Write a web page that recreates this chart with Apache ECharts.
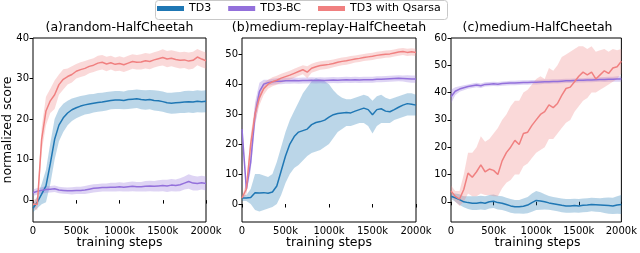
<!DOCTYPE html>
<html><head><meta charset="utf-8">
<script src="https://cdn.jsdelivr.net/npm/echarts@6/dist/echarts.min.js"></script>
<style>html,body{margin:0;padding:0;background:#fff}#c{width:640px;height:253px}</style>
</head><body><div id="c"></div>
<script>
const steps = [0,50,100,150,200,250,300,350,400,450,500,550,600,650,700,750,800,850,900,950,1000,1050,1100,1150,1200,1250,1300,1350,1400,1450,1500,1550,1600,1650,1700,1750,1800,1850,1900,1950,2000];
const xTicks = [0,500,1000,1500,2000];
const yTicksA = [0,10,20,30,40];
const yTicksB = [0,10,20,30,40,50];
const yTicksC = [0,10,20,30,40,50,60];
const seriesNames = ['TD3','TD3-BC','TD3 with Qsarsa'];
const titles = ['(a)random-HalfCheetah','(b)medium-replay-HalfCheetah','(c)medium-HalfCheetah'];

// Panel (a) random
const aTd3 = [-2,-0.5,1.5,3.5,9,15,18.5,20.3,21.5,22.3,22.8,23.2,23.5,23.7,23.9,24.1,24.2,24.4,24.6,24.7,24.7,24.6,24.8,24.9,25,24.8,24.7,24.8,24.6,24.5,24.3,24,23.9,24,24.1,24.2,24.3,24.2,24.4,24.3,24.4];
const aTd3Err = [1,1.5,2.5,4,5,5,4,3.5,3,2.8,2.6,2.5,2.4,2.4,2.3,2.3,2.3,2.3,2.2,2.2,2.2,2.2,2.3,2.3,2.3,2.4,2.4,2.4,2.5,2.5,2.5,2.5,2.6,2.6,2.6,2.7,2.7,2.7,2.7,2.7,2.7];
const aBc = [1.8,2.2,2.4,2.6,2.7,2.8,2.5,2.4,2.3,2.3,2.4,2.4,2.5,2.7,2.9,3,3.1,3.1,3.2,3.2,3.3,3.2,3.3,3.4,3.3,3.3,3.4,3.5,3.4,3.5,3.6,3.5,3.7,3.6,3.8,4.2,4.6,4.2,4.1,4.3,4.1];
const aBcErr = [0.8,0.8,0.8,0.8,0.8,0.8,0.8,0.8,0.8,0.9,0.9,0.9,1,1,1,1,1,1,1.1,1.1,1.1,1.1,1.2,1.2,1.2,1.2,1.3,1.3,1.3,1.4,1.4,1.5,1.5,1.5,1.6,1.6,1.8,1.8,1.7,1.7,1.7];
const aQs = [-1,-1,15,22,24.5,26,28.5,29.8,30.5,31,31.8,32.2,32.5,33,33.3,33.8,34,33.6,33.9,33.5,33.7,33.4,33.8,34.2,34,34.1,34.4,34.2,34.6,34.9,35.2,34.8,35,34.7,34.5,34.6,34.3,34.5,35.3,34.8,34.4];
const aQsErr = [1,1.5,3,3.5,3,3.5,2.5,2.5,2,2,1.8,1.8,1.8,1.7,1.7,1.8,1.8,1.8,1.7,1.7,1.8,1.8,1.8,1.8,1.8,1.9,1.9,1.9,1.9,1.9,2,2,2,2,2,2,2.1,2.1,2,2,2];

// Panel (b) medium-replay
const bTd3 = [2,2,2.2,3.8,3.7,3.8,3.6,4,6,11,16,20,22.5,24,24.5,25,26.5,27.2,27.5,28,29,29.8,30.2,30.4,30.5,30.4,31,31.5,32,31.5,29.8,31.5,31.8,31,30.8,31.5,32.3,33,33.5,33.3,33];
const bTd3Lo = [1,1,0,-2,-2.5,-2,-1.5,-1,0,3,7,10,12,13,14.5,16,17,17.5,18,19,20,22,24,25,26,26,26.5,27,27,26,23.5,26,27,27,27,28,28.5,29,29.5,29.5,29.5];
const bTd3Hi = [3,3,5,10,10,9.5,9,10,14,19,24,28,31,34,37,39,41,42,41.5,41,40,38,36.5,35.5,35,35,35.5,36,36.5,36,34.5,36,36.5,35.5,35,35.5,36,36.5,37,37,36.5];
const bBc = [25,5,14,30,37.5,40,40.5,40.8,41,41,41.1,41.1,41.2,41.1,41.2,41.2,41.3,41.2,41.3,41.2,41.3,41.4,41.3,41.4,41.5,41.4,41.5,41.4,41.5,41.5,41.5,41.6,41.6,41.7,41.8,41.9,42,41.9,41.8,41.7,41.7];
const bBcErr = [2,1.5,3,4,3,1.5,1,1,1,1,1,1,1,1,1,1,1,1,1,1,1,1,1,1,1,1,1,1,1,1,1,1,1,1,1,1,1,1,1.2,1.2,1.2];
const bQs = [2,5,20,30,35.5,38.5,40,40.8,41.3,42,42.5,43,43.6,44.2,44.8,44,45.3,45.8,46.2,46.4,46.6,46.9,47.3,47.6,47.8,48.1,48.4,48.6,48.9,49.1,49.3,49.6,49.8,50,50.1,50.4,50.7,50.9,50.6,50.8,50.6];
const bQsErr = [0.5,2,3,3,2.5,2,1.5,1.5,1.5,1.5,1.5,1.5,1.5,1.5,1.5,2,1.5,1.5,1.4,1.4,1.4,1.3,1.3,1.3,1.3,1.3,1.2,1.2,1.2,1.2,1.2,1.2,1.2,1.2,1.2,1.2,1.2,1.2,1.2,1.2,1.2];

// Panel (c) medium
const cTd3 = [2,1.5,0.8,0,-0.3,-0.5,-0.5,-0.3,-0.5,0,0.2,-0.3,-0.5,-1,-1.5,-1.8,-1.8,-1.6,-1.2,-0.3,0.5,0.3,0,-0.4,-0.7,-1,-1.3,-1.5,-1.5,-1.4,-1.5,-1.3,-1.2,-1,-1.1,-1.2,-1.3,-1.4,-1.5,-1.2,-1];
const cTd3Err = [1,1.5,2,2,2.3,2.5,2.5,2.5,2.5,2.5,2.5,2.5,2.5,2.5,2.5,2.5,2.5,2.8,3,3.3,3.5,3.2,2.8,2.5,2.5,2.5,2.5,2.5,2.5,2.5,2.5,2.5,2.5,2.5,2.5,2.5,2.8,3,3,3.2,3.5];
const cBc = [38.5,40.5,41.3,41.8,42.2,42.5,42.8,42.5,43,43.1,43.2,43.1,43.3,43.4,43.5,43.5,43.6,43.7,43.7,43.8,43.8,43.9,44,44,44.1,44.1,44.2,44.3,44.3,44.4,44.5,44.5,44.6,44.6,44.7,44.8,44.8,44.9,44.9,45,45];
const cBcErr = [2.5,1.5,1,0.9,0.8,0.8,0.8,0.8,0.8,0.8,0.8,0.8,0.8,0.8,0.8,0.8,0.8,0.8,0.8,0.8,0.8,0.8,0.8,0.8,0.8,0.8,0.8,0.8,0.8,0.8,0.8,0.8,0.8,0.8,0.8,0.8,0.9,0.9,0.9,1,1];
const cQs = [4,2,1,4.5,10.5,9,11,13.5,11,12,11.5,10,15,18,20,22.5,21,25,25.5,28,30,32,33,35.5,34.5,36,39,41.5,42,44,46,47.5,46.5,47.5,45,46.5,48,47,49,49.5,51.5];
const cQsLo = [2,0,-1.5,0,3,2,2,3,2.5,2.5,2,2,5,7,8,10,10,13,14,16,18,19,20,23,23,25,27,29,30,33,35,37,38,40,40,41,42,43,44,45,47];
const cQsHi = [6,4,4,10,18,18,20,24,22,23,25,27,30,32,35,37,37,40,41,43,45,46,45,49,48,50,53,54,55,56,57,57,56,57,55,55.5,56,55,56,55.5,56];

const COLORS = {'TD3':'#1f77b4','TD3-BC':'#9370db','TD3 with Qsarsa':'#f08080'};
const FONT = 'DejaVu Sans';

const panels = [
  {min:-5.4, max:40, ticks:yTicksA, lines:[
    {name:'TD3', mean:aTd3, lo:aTd3.map((v,i)=>v-aTd3Err[i]), hi:aTd3.map((v,i)=>v+aTd3Err[i])},
    {name:'TD3-BC', mean:aBc, lo:aBc.map((v,i)=>v-aBcErr[i]), hi:aBc.map((v,i)=>v+aBcErr[i])},
    {name:'TD3 with Qsarsa', mean:aQs, lo:aQs.map((v,i)=>v-aQsErr[i]), hi:aQs.map((v,i)=>v+aQsErr[i])}]},
  {min:-6, max:55.4, ticks:yTicksB, lines:[
    {name:'TD3', mean:bTd3, lo:bTd3Lo, hi:bTd3Hi},
    {name:'TD3-BC', mean:bBc, lo:bBc.map((v,i)=>v-bBcErr[i]), hi:bBc.map((v,i)=>v+bBcErr[i])},
    {name:'TD3 with Qsarsa', mean:bQs, lo:bQs.map((v,i)=>v-bQsErr[i]), hi:bQs.map((v,i)=>v+bQsErr[i])}]},
  {min:-7.4, max:60, ticks:yTicksC, lines:[
    {name:'TD3', mean:cTd3, lo:cTd3.map((v,i)=>v-cTd3Err[i]), hi:cTd3.map((v,i)=>v+cTd3Err[i])},
    {name:'TD3-BC', mean:cBc, lo:cBc.map((v,i)=>v-cBcErr[i]), hi:cBc.map((v,i)=>v+cBcErr[i])},
    {name:'TD3 with Qsarsa', mean:cQs, lo:cQsLo, hi:cQsHi}]}
];

const gridBoxes = [{left:33,width:173},{left:242,width:174},{left:451,width:173}];
const TOP = 38, HEIGHT = 184;

const isTick = (i, v) => xTicks.indexOf(Number(v)) >= 0;

const grids = [], xAxes = [], yAxes = [], series = [], graphics = [];
panels.forEach((p, g) => {
  const gb = gridBoxes[g];
  grids.push({left:gb.left, top:TOP, width:gb.width, height:HEIGHT, show:true, borderColor:'#000', borderWidth:1, backgroundColor:'rgba(0,0,0,0)'});
  xAxes.push({type:'category', gridIndex:g, data:steps.map(String), boundaryGap:false,
    axisLine:{show:false}, splitLine:{show:false},
    axisTick:{show:true, interval:isTick, length:3.5, lineStyle:{color:'#000', width:1}},
    axisLabel:{interval:isTick, formatter:v => (Number(v)===0 ? '0' : v + 'k'), fontSize:10, fontFamily:FONT, color:'#000', margin:4}});
  yAxes.push({type:'value', gridIndex:g, min:p.min, max:p.max,
    axisLine:{show:false}, splitLine:{show:false},
    axisTick:{show:true, length:3.5, customValues:p.ticks, lineStyle:{color:'#000', width:1}},
    axisLabel:{customValues:p.ticks, fontSize:10, fontFamily:FONT, color:'#000', margin:4}});
  p.lines.forEach(l => {
    const key = 'b' + g + l.name;
    series.push({type:'line', name:key+'lo', xAxisIndex:g, yAxisIndex:g, data:l.lo, stack:key, stackStrategy:'all',
      symbol:'none', silent:true, lineStyle:{opacity:0}, z:1});
    series.push({type:'line', name:key+'band', xAxisIndex:g, yAxisIndex:g, data:l.hi.map((h,i)=>h-l.lo[i]), stack:key, stackStrategy:'all',
      symbol:'none', silent:true, lineStyle:{opacity:0}, areaStyle:{color:COLORS[l.name], opacity:0.3}, z:1});
  });
  p.lines.forEach(l => {
    series.push({type:'line', name:l.name, xAxisIndex:g, yAxisIndex:g, data:l.mean, symbol:'none',
      lineStyle:{color:COLORS[l.name], width:1.5}, itemStyle:{color:COLORS[l.name]}, z:3});
  });
  graphics.push({type:'text', x:gb.left + gb.width/2, y:28, style:{text:titles[g], textAlign:'center', textVerticalAlign:'middle', fontSize:12.5, fontFamily:FONT, fill:'#000'}});
  graphics.push({type:'text', x:gb.left + gb.width/2, y:243, style:{text:'training steps', textAlign:'center', textVerticalAlign:'middle', fontSize:12.5, fontFamily:FONT, fill:'#000'}});
});
graphics.push({type:'text', x:8, y:130, rotation:Math.PI/2, style:{text:'normalized score', textAlign:'center', textVerticalAlign:'middle', fontSize:12.5, fontFamily:FONT, fill:'#000'}});
graphics.push({type:'rect', shape:{x:155.5, y:0.5, width:292, height:19, r:3}, style:{fill:'none', stroke:'#c8c8c8', lineWidth:1}});

const chart = echarts.init(document.getElementById('c'), null, {renderer:'canvas'});
chart.setOption({
  animation:false,
  backgroundColor:'#fff',
  legend:{data:seriesNames, left:157, top:3, padding:0, itemWidth:27, itemHeight:5, itemGap:17, icon:'rect',
    textStyle:{fontSize:11, fontFamily:FONT, color:'#000'}, selectedMode:false},
  grid:grids, xAxis:xAxes, yAxis:yAxes, series:series, graphic:graphics
});
</script></body></html>
